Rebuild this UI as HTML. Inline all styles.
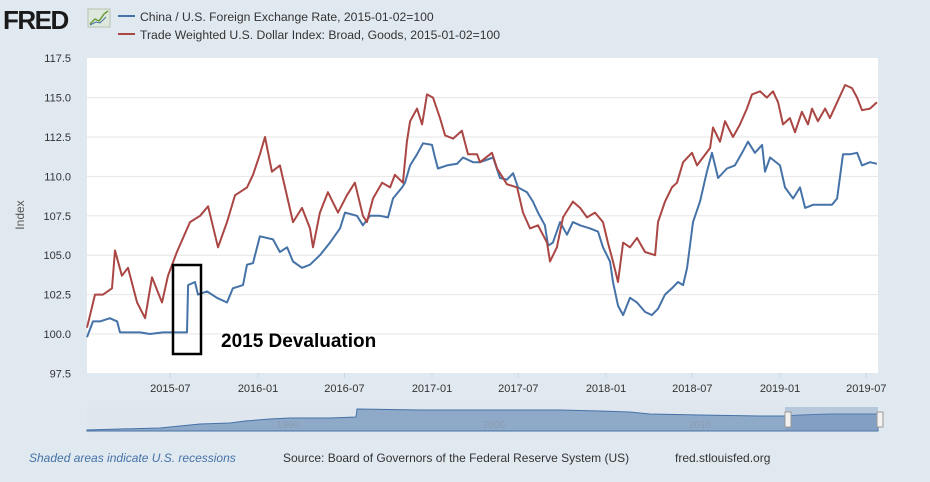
<!DOCTYPE html>
<html><head><meta charset="utf-8"><style>
body{margin:0;width:930px;height:482px;background:#e1e9f0;font-family:"Liberation Sans",sans-serif;overflow:hidden}
svg{display:block}
</style></head><body>
<svg id="chart" width="930" height="482">
<g>
<text x="3" y="29" font-size="26" font-weight="bold" fill="#1a1a1a" letter-spacing="-1.5">FRED</text>
<rect x="88" y="9" width="22" height="18" fill="#dfe8dc" stroke="#b8c4b0"/>
<polyline points="90,24 95,19 99,21 104,14 108,11" fill="none" stroke="#6a9a3a" stroke-width="1.5"/>
<polyline points="90,25 96,22 100,23 106,17" fill="none" stroke="#4572a7" stroke-width="1"/>
</g>
<g>
<g><line x1="118" y1="16" x2="135" y2="16" stroke="#4572a7" stroke-width="2"/><text x="140" y="21" font-size="12.2" fill="#333">China / U.S. Foreign Exchange Rate, 2015-01-02=100</text></g>
<g><line x1="118" y1="34" x2="135" y2="34" stroke="#aa4643" stroke-width="2"/><text x="140" y="39" font-size="12.2" fill="#333">Trade Weighted U.S. Dollar Index: Broad, Goods, 2015-01-02=100</text></g>
</g>
<rect x="87" y="58" width="791" height="315" fill="#fff"/>
<g id="grid"></g><g id="yticks"></g><g id="xticks"></g>
<text x="24" y="215" font-size="12" fill="#555" transform="rotate(-90 24 215)" text-anchor="middle">Index</text>
<g id="series"></g>
<rect x="173" y="265" width="28" height="89" fill="none" stroke="#000" stroke-width="2.5"/>
<text x="221" y="347" font-size="19" font-weight="bold" fill="#000">2015 Devaluation</text>
<g>
<rect x="87" y="407" width="791" height="26" fill="#dfe6ee"/>
<path d="M87,431 L87,430 L120,429 L160,428 L170,427 L200,424 L230,423 L245,421 L270,419 L290,418 L330,418 L356,417 L357,409 L420,410 L500,410 L560,410 L600,411 L630,412 L650,414 L700,415 L760,416 L785,416 L800,415 L830,414 L850,414 L870,414 L878,414 L878,431 Z" fill="#8faac8" stroke="#4572a7" stroke-width="1"/>
<rect x="785" y="407" width="93" height="24" fill="#6c8cbb" opacity="0.35"/>
<text x="288" y="428" font-size="10" fill="#8c9bb0" text-anchor="middle">1990</text>
<text x="494" y="428" font-size="10" fill="#8c9bb0" text-anchor="middle">2000</text>
<text x="700" y="428" font-size="10" fill="#8c9bb0" text-anchor="middle">2010</text>
<rect x="785" y="412" width="6" height="15" fill="#f2f2f2" stroke="#999"/>
<rect x="877" y="412" width="6" height="15" fill="#f2f2f2" stroke="#999"/>
</g>
<text x="29" y="462" font-size="12" font-style="italic" fill="#4572a7">Shaded areas indicate U.S. recessions</text>
<text x="283" y="462" font-size="12" fill="#333">Source: Board of Governors of the Federal Reserve System (US)</text>
<text x="675" y="462" font-size="12" fill="#333">fred.stlouisfed.org</text>
</svg>
<script>
const yTickValues=[97.5,100,102.5,105,107.5,110,112.5,115,117.5];
const xTickLabels=["2015-07","2016-01","2016-07","2017-01","2017-07","2018-01","2018-07","2019-01","2019-07"];
const xTickTimes=[2015.496,2016.0,2016.497,2017.0,2017.496,2018.0,2018.496,2019.0,2019.496];
const chinaTimes=[2015.017,2015.052,2015.092,2015.149,2015.190,2015.207,2015.264,2015.322,2015.379,2015.454,2015.506,2015.592,2015.598,2015.638,2015.655,2015.707,2015.764,2015.822,2015.856,2015.914,2015.937,2015.971,2016.011,2016.086,2016.126,2016.167,2016.201,2016.253,2016.299,2016.356,2016.414,2016.471,2016.500,2016.569,2016.603,2016.644,2016.701,2016.747,2016.776,2016.828,2016.845,2016.874,2016.914,2016.948,2017.000,2017.017,2017.034,2017.086,2017.144,2017.178,2017.236,2017.276,2017.351,2017.391,2017.431,2017.466,2017.494,2017.546,2017.580,2017.609,2017.649,2017.667,2017.695,2017.736,2017.776,2017.810,2017.851,2017.908,2017.954,2017.983,2018.023,2018.040,2018.069,2018.098,2018.138,2018.178,2018.224,2018.264,2018.299,2018.339,2018.379,2018.414,2018.443,2018.466,2018.500,2018.540,2018.580,2018.609,2018.644,2018.695,2018.741,2018.782,2018.816,2018.856,2018.897,2018.914,2018.943,2019.000,2019.029,2019.075,2019.115,2019.144,2019.190,2019.247,2019.299,2019.328,2019.362,2019.402,2019.443,2019.471,2019.517,2019.557];
const chinaValues=[99.8,100.8,100.8,101.0,100.8,100.1,100.1,100.1,100.0,100.1,100.1,100.1,103.1,103.3,102.5,102.7,102.3,102.0,102.9,103.1,104.4,104.5,106.2,106.0,105.2,105.5,104.6,104.2,104.4,105.0,105.8,106.7,107.7,107.5,106.9,107.5,107.5,107.4,108.6,109.3,109.6,110.7,111.4,112.1,112.0,111.2,110.5,110.7,110.8,111.2,110.9,110.9,111.2,109.9,109.8,110.2,109.3,109.0,108.4,107.7,106.9,105.6,105.8,107.1,106.3,107.1,106.9,106.7,106.5,105.5,104.6,103.3,101.8,101.2,102.3,102.0,101.4,101.2,101.6,102.5,102.9,103.3,103.1,104.2,107.1,108.4,110.3,111.5,109.9,110.5,110.7,111.5,112.2,111.5,112.0,110.3,111.2,110.7,109.3,108.6,109.3,108.0,108.2,108.2,108.2,108.6,111.4,111.4,111.5,110.7,110.9,110.8];
const usdTimes=[2015.017,2015.063,2015.109,2015.161,2015.178,2015.218,2015.253,2015.305,2015.351,2015.391,2015.448,2015.483,2015.534,2015.609,2015.667,2015.713,2015.770,2015.822,2015.868,2015.937,2015.971,2016.011,2016.040,2016.080,2016.126,2016.155,2016.201,2016.253,2016.299,2016.316,2016.356,2016.402,2016.460,2016.511,2016.557,2016.603,2016.626,2016.661,2016.713,2016.759,2016.787,2016.833,2016.856,2016.874,2016.914,2016.943,2016.971,2017.006,2017.046,2017.075,2017.121,2017.172,2017.207,2017.259,2017.276,2017.345,2017.374,2017.431,2017.489,2017.523,2017.563,2017.609,2017.661,2017.678,2017.718,2017.753,2017.810,2017.851,2017.891,2017.937,2017.983,2018.011,2018.040,2018.069,2018.098,2018.138,2018.178,2018.224,2018.282,2018.299,2018.339,2018.379,2018.408,2018.443,2018.494,2018.523,2018.598,2018.615,2018.655,2018.684,2018.730,2018.770,2018.810,2018.839,2018.885,2018.925,2018.960,2018.989,2019.017,2019.057,2019.086,2019.126,2019.161,2019.184,2019.218,2019.259,2019.287,2019.328,2019.374,2019.414,2019.443,2019.471,2019.517,2019.557];
const usdValues=[100.4,102.5,102.5,102.9,105.3,103.7,104.2,102.0,101.0,103.6,102.0,103.7,105.2,107.1,107.5,108.1,105.5,107.1,108.8,109.3,110.1,111.4,112.5,110.3,110.7,109.3,107.1,108.0,106.7,105.5,107.7,109.0,107.7,108.8,109.6,107.5,107.1,108.6,109.6,109.3,110.1,109.6,112.2,113.5,114.3,113.3,115.2,115.0,113.7,112.6,112.4,112.9,111.4,111.4,110.9,111.5,110.5,109.5,109.3,107.7,106.7,106.9,105.8,104.6,105.5,107.4,108.4,108.0,107.4,107.7,107.1,105.8,104.6,103.3,105.8,105.5,106.1,105.2,105.0,107.1,108.4,109.3,109.6,110.9,111.5,110.7,111.8,113.1,112.2,113.5,112.5,113.3,114.3,115.2,115.4,115.0,115.4,114.7,113.3,113.7,112.8,114.1,113.3,114.3,113.5,114.3,113.7,114.7,115.8,115.6,115.0,114.2,114.3,114.7];

const NS="http://www.w3.org/2000/svg";
function xScale(t){return 84+(t-2015)*174;}
function yScale(v){return 334-(v-100)*15.76;}
function mk(tag,attrs,parent){const e=document.createElementNS(NS,tag);for(const k in attrs)e.setAttribute(k,attrs[k]);parent.appendChild(e);return e;}
const grid=document.getElementById('grid'),yt=document.getElementById('yticks'),xt=document.getElementById('xticks'),ser=document.getElementById('series');
yTickValues.forEach(v=>{
  if(v>97.5&&v<117.5){const l=mk('line',{x1:87,x2:878,y1:yScale(v),y2:yScale(v),stroke:'#e6e6e6','stroke-width':1},grid);
  
  }
  const t=mk('text',{x:71,y:yScale(v)+4,'font-size':11,fill:'#333','text-anchor':'end'},yt);
  t.textContent=v.toFixed(1);
  
  
});
xTickTimes.forEach((tm,i)=>{
  const x=xScale(tm);
  const l=mk('line',{x1:x,x2:x,y1:373,y2:378,stroke:'#ccd6eb'},xt);
  
  
  const t=mk('text',{x:x,y:392,'font-size':11,fill:'#333','text-anchor':'middle'},xt);
  t.textContent=xTickLabels[i];
  
  
});
function line(ts,vs,color,name){
  const d=ts.map((t,i)=>(i?'L':'M')+xScale(t).toFixed(1)+','+yScale(vs[i]).toFixed(1)).join(' ');
  const p=mk('path',{d:d,fill:'none',stroke:color,'stroke-width':2,'stroke-linejoin':'round'},ser);
  
  
}
line(chinaTimes,chinaValues,'#4572a7','china-fx-line');
line(usdTimes,usdValues,'#aa4643','dollar-index-line');
</script>
</body></html>
